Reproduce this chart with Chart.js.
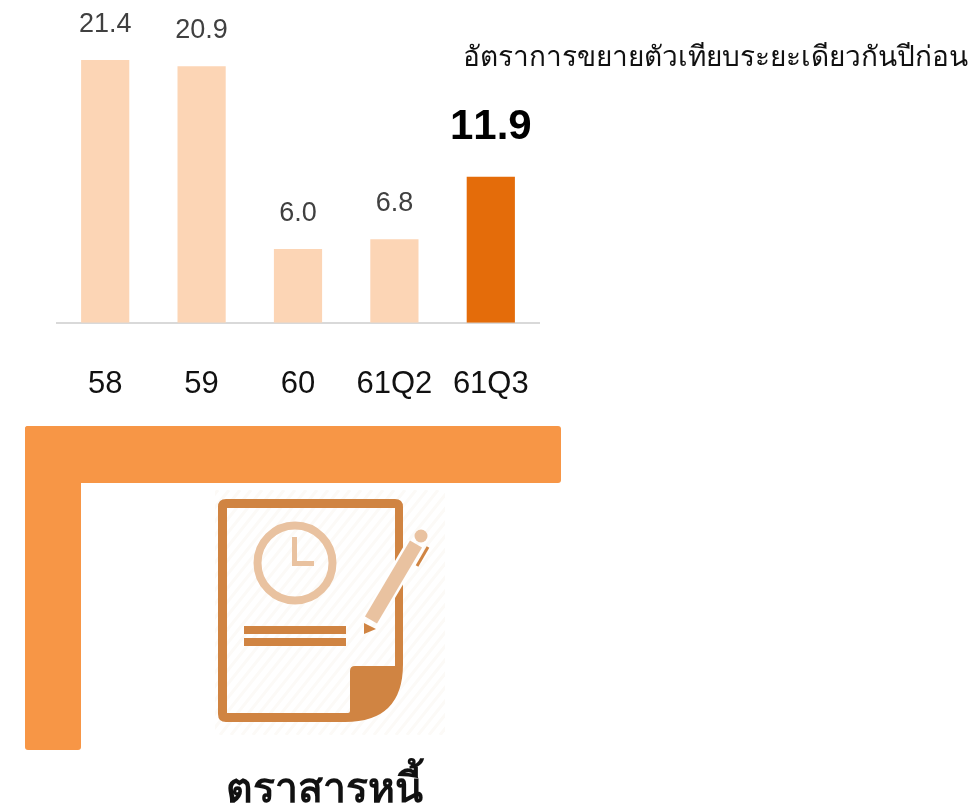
<!DOCTYPE html>
<html><head><meta charset="utf-8">
<style>
html,body{margin:0;padding:0;background:#fff;}
#wrap{position:relative;width:978px;height:812px;overflow:hidden;}
#c{position:absolute;left:0;top:0;}
.t{position:absolute;white-space:nowrap;font-family:"Liberation Sans","Noto Sans",sans-serif;}
</style>
<script src="https://cdn.jsdelivr.net/npm/chart.js@4"></script>
</head><body>
<div id="wrap">
<canvas id="c" width="978" height="812"></canvas>
<div class="t" style="left:463px;top:34px;font-size:28px;color:#111">อัตราการขยายตัวเทียบระยะเดียวกันปีก่อน</div>
<div class="t" style="left:226px;top:755px;font-size:41px;font-weight:bold;color:#111">ตราสารหนี้</div>
</div>
<script>
const categories=["58","59","60","61Q2","61Q3"];
const growth=[21.4,20.9,6.0,6.8,11.9];
const barColors=["#FCD5B5","#FCD5B5","#FCD5B5","#FCD5B5","#E46C0A"];
const labelColors=["#404040","#404040","#404040","#404040","#000000"];
const labelFonts=[27,27,27,27,42];
const decor={id:'decor',afterDraw(ch){
 const g=ch.ctx;g.save();
 g.fillStyle='#F79646';
 g.beginPath();g.roundRect(25,426,536,57,3);g.fill();
 g.beginPath();g.roundRect(25,426,56,324,3);g.fill();
 // faint hatch behind the icon
 g.save();g.beginPath();g.rect(215,490,230,245);g.clip();
 g.strokeStyle='#FCFAF7';g.lineWidth=3;
 for(let s=0;s<460;s+=11){g.beginPath();g.moveTo(s,735);g.lineTo(s+196,490);g.stroke();}
 g.restore();
 // document outline
 const c='#D08442';
 g.fillStyle=c;
 g.beginPath();
 g.moveTo(226,499);g.lineTo(395,499);g.quadraticCurveTo(403,499,403,507);g.lineTo(403,664);
 g.quadraticCurveTo(403,722,345,722);g.lineTo(226,722);g.quadraticCurveTo(218,722,218,714);g.lineTo(218,507);g.quadraticCurveTo(218,499,226,499);g.closePath();
 g.moveTo(227,508);g.lineTo(227,713);g.lineTo(348,713);g.quadraticCurveTo(350,713,350,711);g.lineTo(350,671);g.quadraticCurveTo(350,666,355,666);g.lineTo(395,666);g.lineTo(395,508);g.closePath();
 g.fill('evenodd');
 g.fillRect(244,626,102,8);g.fillRect(244,638,102,8);
 // clock
 g.strokeStyle='#E9C2A0';g.lineWidth=8;
 g.beginPath();g.arc(295,563,37.5,0,Math.PI*2);g.stroke();
 g.fillStyle='#E9C2A0';g.fillRect(292,537,5,29);g.fillRect(292,561,22,5);
 // pen with white halo
 g.lineCap='butt';
 g.strokeStyle='#fff';g.lineWidth=19;
 g.beginPath();g.moveTo(371,620);g.lineTo(416,544);g.stroke();
 g.strokeStyle='#E9C2A0';g.lineWidth=14;
 g.beginPath();g.moveTo(371,620);g.lineTo(416,544);g.stroke();
 g.fillStyle='#E9C2A0';g.beginPath();g.arc(421,536,6.5,0,Math.PI*2);g.fill();
 g.fillStyle=c;g.beginPath();g.moveTo(364,623);g.lineTo(376,629);g.lineTo(364,634);g.closePath();g.fill();
 g.strokeStyle=c;g.lineWidth=3;g.beginPath();g.moveTo(417,566);g.lineTo(428,547);g.stroke();
 g.restore();
}};
new Chart(document.getElementById('c'),{
 type:'bar',
 data:{labels:categories,datasets:[{data:growth,backgroundColor:barColors,barPercentage:0.5,categoryPercentage:1}]},
 plugins:[decor,{id:'vals',afterDatasetsDraw(ch){
  const g=ch.ctx,m=ch.getDatasetMeta(0);g.save();g.textAlign='center';g.textBaseline='alphabetic';
  m.data.forEach((b,i)=>{g.fillStyle=labelColors[i];
   g.fontKerning='none';
   g.font=(i==4?'bold ':'')+labelFonts[i]+'px "Liberation Sans"';
   g.fillText(growth[i].toFixed(1),b.x,b.y-(i==4?38:28));});
  g.restore();}}],
 options:{responsive:false,animation:false,
  layout:{padding:{left:57,top:60,right:439,bottom:366}},
  plugins:{legend:{display:false},tooltip:{enabled:false}},
  scales:{
   x:{grid:{display:false,drawTicks:false},border:{color:'#D9D9D9',width:2},
      ticks:{color:'#111',font:{size:31,family:'Liberation Sans'},padding:43,maxRotation:0,autoSkip:false}},
   y:{display:false,min:0,max:21.4,grid:{display:false}}
  }}
});
</script>
</body></html>
